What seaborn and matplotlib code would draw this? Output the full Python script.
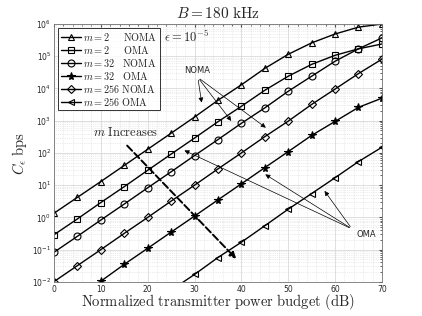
import numpy as np
import pandas as pd
import seaborn as sns
import matplotlib.pyplot as plt
from matplotlib.ticker import LogLocator, MultipleLocator, NullFormatter

# power budget (dB)
snr = [0, 5, 10, 15, 20, 25, 30, 35, 40, 45, 50, 55, 60, 65, 70]

m2_noma = [1.35, 4.2, 13, 41, 130, 410, 1300, 4300, 13000, 42000, 115000, 260000, 490000, 800000, 1000000]
m2_oma = [0.29, 0.9, 2.9, 9, 29, 92, 290, 930, 2800, 8800, 24000, 56000, 107000, 170000, 240000]
m32_noma = [0.083, 0.26, 0.83, 2.6, 8.3, 26, 83, 260, 830, 2500, 8200, 24000, 70000, 170000, 370000]
m32_oma_x = [10, 15, 20, 25, 30, 35, 40, 45, 50, 55, 60, 65, 70]
m32_oma = [0.0105, 0.035, 0.11, 0.35, 1.1, 3.5, 11, 35, 110, 350, 950, 2600, 5000]
m256_noma = [0.0102, 0.032, 0.1, 0.32, 1.0, 3.2, 10, 32, 100, 320, 970, 3200, 9600, 29000, 81000]
m256_oma_x = [25, 30, 35, 40, 45, 50, 55, 60, 65, 70]
m256_oma = [0.0055, 0.017, 0.057, 0.17, 0.55, 1.8, 5.5, 17, 54, 150]

series = [
    (r"$m = 2\quad\ \ \mathrm{NOMA}$", snr, m2_noma, "^"),
    (r"$m = 2\quad\ \ \mathrm{OMA}$", snr, m2_oma, "s"),
    (r"$m = 32\ \ \ \mathrm{NOMA}$", snr, m32_noma, "o"),
    (r"$m = 32\ \ \ \mathrm{OMA}$", m32_oma_x, m32_oma, "*"),
    (r"$m = 256\ \mathrm{NOMA}$", snr, m256_noma, "D"),
    (r"$m = 256\ \mathrm{OMA}$", m256_oma_x, m256_oma, "<"),
]

sns.set_style("white")
plt.rcParams["mathtext.fontset"] = "cm"
plt.rcParams["font.family"] = ["DejaVu Sans"]

fig = plt.figure(figsize=(4.22, 3.16), dpi=100)
ax = fig.add_axes([0.128, 0.108, 0.777, 0.816])

for label, xs, ys, mk in series:
    df = pd.DataFrame({"x": xs, "y": ys})
    ms = 5.0
    if mk == "D":
        ms = 4.0
    if mk == "*":
        ms = 5.8
    sns.lineplot(data=df, x="x", y="y", ax=ax, color="k", lw=1.0,
                 marker=mk, markersize=ms, markerfacecolor="none" if mk != "*" else "k",
                 markeredgecolor="k", markeredgewidth=0.8, label=label)

ax.set_yscale("log")
ax.set_xlim(0, 70)
ax.set_ylim(1e-2, 1e6)
ax.xaxis.set_major_locator(MultipleLocator(10))
ax.xaxis.set_minor_locator(MultipleLocator(2))
ax.yaxis.set_major_locator(LogLocator(base=10, numticks=20))
ax.yaxis.set_minor_locator(LogLocator(base=10, subs=np.arange(2, 10), numticks=20))
ax.yaxis.set_minor_formatter(NullFormatter())
ax.grid(True, which="major", color="0.85", lw=0.6, ls="-")
ax.grid(True, which="minor", color="0.85", lw=0.5, ls=":")
ax.tick_params(which="both", direction="in", top=True, right=True, labelsize=5.5,
               color="0.3", length=2.5, pad=2)
ax.tick_params(which="minor", length=1.5)
for s in ax.spines.values():
    s.set_color("0.45")
    s.set_linewidth(0.6)

ax.set_title(r"$B = 180\ \mathrm{kHz}$", fontsize=11, pad=4)
ax.set_xlabel(r"$\mathrm{Normalized\ transmitter\ power\ budget\ (dB)}$", fontsize=10.5, labelpad=-1)
ax.set_ylabel(r"$C_\epsilon\ \mathrm{bps}$", fontsize=10.5, labelpad=2)

leg = ax.legend(loc="upper left", fontsize=7.3, frameon=True, fancybox=False,
                edgecolor="k", handlelength=2.0, handletextpad=0.2, labelspacing=0.1,
                borderpad=0.25, borderaxespad=0.4, markerscale=1.0)
leg.get_frame().set_linewidth(0.7)

ax.text(23.5, 4e5, r"$\epsilon = 10^{-5}$", fontsize=9, va="center", ha="left")

# NOMA annotations
for tx, ty in [(31.6, 3000), (38.2, 840), (45.7, 540)]:
    ax.annotate("", xy=(tx, ty), xytext=(30.7, 22000),
                arrowprops=dict(arrowstyle="-|>", color="k", lw=0.5, mutation_scale=7))
ax.text(30.5, 3.7e4, "NOMA", fontsize=6, ha="center", va="center")

# OMA annotations
for tx, ty in [(27.3, 130), (44.6, 24), (57.4, 7.8)]:
    ax.annotate("", xy=(tx, ty), xytext=(63.6, 0.44),
                arrowprops=dict(arrowstyle="-|>", color="k", lw=0.5, mutation_scale=7))
ax.text(66.6, 0.29, "OMA", fontsize=6, ha="center", va="center")

# m increases
ax.annotate("", xy=(39.3, 0.045), xytext=(15.2, 195),
            arrowprops=dict(arrowstyle="-|>", color="k", lw=1.4, ls="--", mutation_scale=9))
ax.text(15.2, 420, r"$m\ \mathrm{Increases}$", fontsize=9, ha="center", va="center")

fig.savefig("out.png", dpi=100)
